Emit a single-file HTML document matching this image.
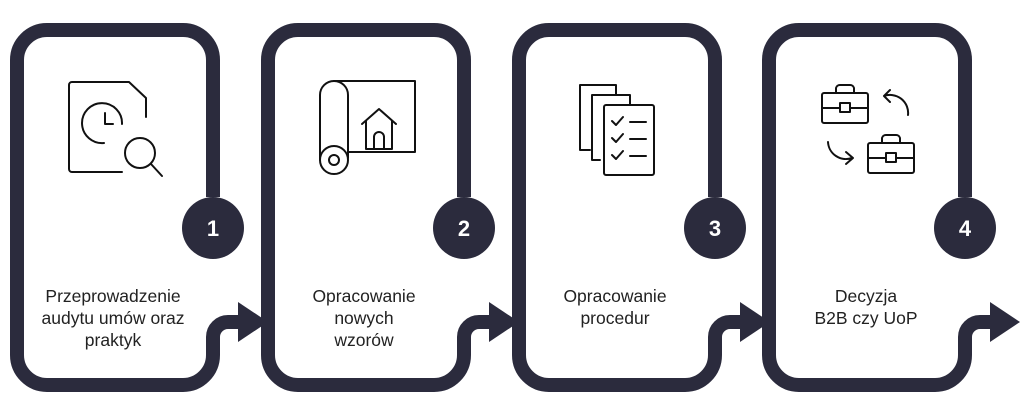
<!DOCTYPE html>
<html><head><meta charset="utf-8"><style>
html,body{margin:0;padding:0;background:#fff;width:1024px;height:415px;overflow:hidden}
svg{display:block}
text{font-family:"Liberation Sans",sans-serif}
</style></head><body>
<svg width="1024" height="415" viewBox="0 0 1024 415" xmlns="http://www.w3.org/2000/svg">
<defs>
<g id="card">
<path d="M213 197 V60 A30 30 0 0 0 183 30 H47 A30 30 0 0 0 17 60 V355 A30 30 0 0 0 47 385 H183 A30 30 0 0 0 213 355 V337 A15 15 0 0 1 228 322 H242" fill="none" stroke="#2b2b3d" stroke-width="14"/>
<polygon points="238,302 268,322 238,342" fill="#2b2b3d"/>
<circle cx="213" cy="228" r="31" fill="#2b2b3d"/>
</g>
</defs>
<g stroke="#111" stroke-width="2" fill="none" stroke-linecap="round" stroke-linejoin="round">
<path d="M122 172 H72 A3 3 0 0 1 69 169 V85 A3 3 0 0 1 72 82 H129 L146 98 V117"/>
<path d="M104 143 A20 20 0 1 1 122 124"/>
<path d="M105 113 V124 H113"/>
<circle cx="140" cy="153" r="15"/>
<line x1="151" y1="164" x2="162" y2="176"/>
<path d="M320 160 V95 A14 14 0 0 1 348 95 V158"/>
<path d="M334 81 H415 V152 H348"/>
<circle cx="334" cy="160" r="14"/><circle cx="334" cy="160" r="5"/>
<path d="M362 124 L379 109 L396 124 M366 121 V149 H392 V121"/>
<path d="M374 149 V137 A5 5 0 0 1 384 137 V149"/>
<path d="M590 150 H580 V85 H616 V95"/>
<path d="M600 160 H592 V95 H630 V105"/>
<rect x="604" y="105" width="50" height="70" rx="2"/>
<path d="M612 121 l4 4 l7 -8 M630 122 H646 M612 138 l4 4 l7 -8 M630 139 H646 M612 155 l4 4 l7 -8 M630 156 H646"/>
<rect x="822" y="93" width="46" height="30" rx="2"/>
<path d="M836 93 V88 A4 4 0 0 1 840 85 H850 A4 4 0 0 1 854 88 V93 M822 108 H840 M850 108 H868"/>
<rect x="840" y="103" width="10" height="9"/>
<rect x="868" y="143" width="46" height="30" rx="2"/>
<path d="M882 143 V138 A4 4 0 0 1 886 135 H896 A4 4 0 0 1 900 138 V143 M868 158 H886 M896 158 H914"/>
<rect x="886" y="153" width="10" height="9"/>
<path d="M908 115 A18 18 0 0 0 884 96 M890 90 L884 96 L890 102"/>
<path d="M828 142 A18 18 0 0 0 852 158 M846 152 L853 158 L846 164"/>
</g>
<use href="#card"/>
<use href="#card" x="251"/>
<use href="#card" x="502"/>
<use href="#card" x="752"/>
<g fill="#fff" font-weight="bold" font-size="22" text-anchor="middle">
<text x="213" y="236">1</text><text x="464" y="236">2</text><text x="715" y="236">3</text><text x="965" y="236">4</text>
</g>
<g fill="#222" font-size="17.5" text-anchor="middle">
<text x="113" y="302">Przeprowadzenie</text><text x="113" y="324">audytu umów oraz</text><text x="113" y="346">praktyk</text>
<text x="364" y="302">Opracowanie</text><text x="364" y="324">nowych</text><text x="364" y="346">wzorów</text>
<text x="615" y="302">Opracowanie</text><text x="615" y="324">procedur</text>
<text x="866" y="302">Decyzja</text><text x="866" y="324">B2B czy UoP</text>
</g>
</svg>
</body></html>
